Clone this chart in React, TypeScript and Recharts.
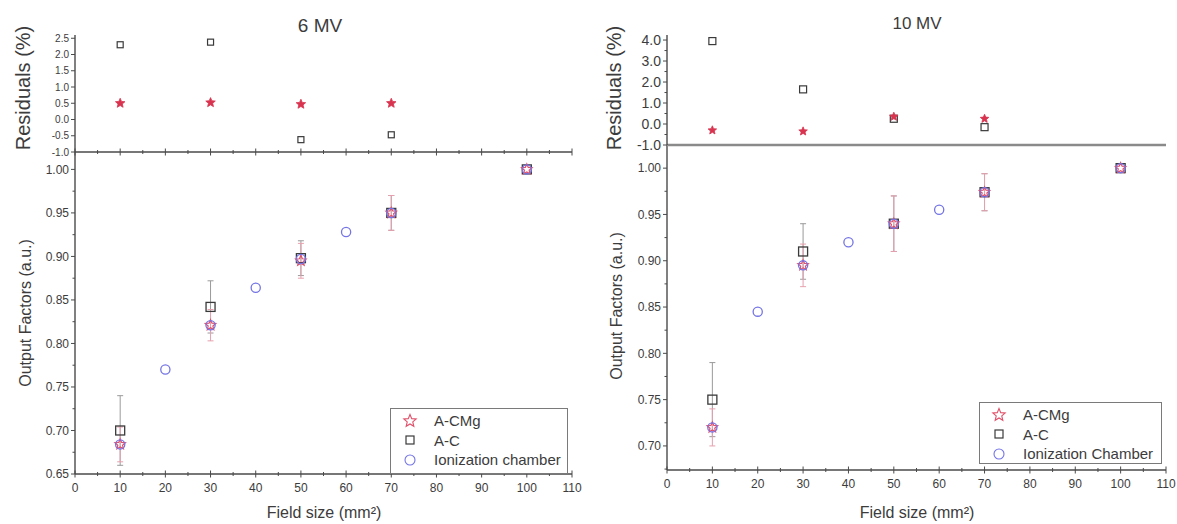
import React from 'react';
import { ScatterChart, Scatter, XAxis, YAxis, ErrorBar, ReferenceArea } from 'recharts';

// Field sizes (mm²)
const FIELD_SIZES = [10, 30, 50, 70, 100];
const RESIDUAL_FIELD_SIZES = [10, 30, 50, 70];
const CHAMBER_FIELD_SIZES = [10, 20, 30, 40, 50, 60, 70, 100];
const X_TICKS = [0, 5, 10, 15, 20, 25, 30, 35, 40, 45, 50, 55, 60, 65, 70, 75, 80, 85, 90, 95, 100, 105, 110];

// 6 MV output factors
const OF_6MV_ACMG = [0.684, 0.821, 0.895, 0.95, 1.0];
const OF_6MV_ACMG_ERR = [0.02, 0.018, 0.02, 0.02, 0];
const OF_6MV_AC = [0.7, 0.842, 0.898, 0.95, 1.0];
const OF_6MV_AC_ERR = [0.04, 0.03, 0.02, 0.02, 0];
const OF_6MV_CHAMBER = [0.684, 0.77, 0.821, 0.864, 0.897, 0.928, 0.95, 1.0];
// 6 MV residuals (%)
const RES_6MV_ACMG = [0.5, 0.52, 0.47, 0.5];
const RES_6MV_AC = [2.3, 2.38, -0.62, -0.47];

// 10 MV output factors
const OF_10MV_ACMG = [0.72, 0.895, 0.94, 0.974, 1.0];
const OF_10MV_ACMG_ERR = [0.02, 0.023, 0.03, 0.02, 0];
const OF_10MV_AC = [0.75, 0.91, 0.94, 0.974, 1.0];
const OF_10MV_AC_ERR = [0.04, 0.03, 0.03, 0.02, 0];
const OF_10MV_CHAMBER = [0.72, 0.845, 0.895, 0.92, 0.94, 0.955, 0.974, 1.0];
// 10 MV residuals (%)
const RES_10MV_ACMG = [-0.3, -0.35, 0.35, 0.25];
const RES_10MV_AC = [3.95, 1.65, 0.25, -0.15];

// Axis ticks
const RES_6MV_TICKS = [-1, -0.5, 0, 0.5, 1, 1.5, 2, 2.5];
const RES_10MV_TICKS = [-1, -0.5, 0, 0.5, 1, 1.5, 2, 2.5, 3, 3.5, 4];
const OF_6MV_TICKS = [0.65, 0.675, 0.7, 0.725, 0.75, 0.775, 0.8, 0.825, 0.85, 0.875, 0.9, 0.925, 0.95, 0.975, 1.0];
const OF_10MV_TICKS = [0.675, 0.7, 0.725, 0.75, 0.775, 0.8, 0.825, 0.85, 0.875, 0.9, 0.925, 0.95, 0.975, 1.0];

const SERIES_NAMES = ['A-CMg', 'A-C'];

const RED = '#e0506a';
const RED_FILL = '#d8334f';
const DARK = '#3a3a3a';
const BLUE = '#7474e6';
const AXIS = '#4a4a4a';
const FRAME = '#7a7a7a';
const TEXT = '#3c3c3c';
const FONT = '"Liberation Sans", Arial, sans-serif';

const pts = (xs: number[], ys: number[], errs?: number[]) =>
  xs.map((x, i) => ({ x, y: ys[i], err: errs ? errs[i] : undefined }));

function starPath(cx: number, cy: number, r: number) {
  let d = '';
  for (let i = 0; i < 10; i++) {
    const rr = i % 2 === 0 ? r : r * 0.45;
    const a = -Math.PI / 2 + (i * Math.PI) / 5;
    d += (i ? 'L' : 'M') + (cx + rr * Math.cos(a)).toFixed(2) + ',' + (cy + rr * Math.sin(a)).toFixed(2);
  }
  return d + 'Z';
}

const hollowStar = (r: number) => (p: any) =>
  <path d={starPath(p.cx, p.cy, r)} fill="none" stroke={RED} strokeWidth={1.2} />;
const filledStar = (r: number) => (p: any) =>
  <path d={starPath(p.cx, p.cy, r)} fill={RED_FILL} stroke={RED_FILL} strokeWidth={0.8} />;
const hollowSquare = (h: number, sw = 1.3) => (p: any) =>
  <rect x={p.cx - h} y={p.cy - h} width={2 * h} height={2 * h} fill="none" stroke={DARK} strokeWidth={sw} />;
const hollowCircle = (r: number) => (p: any) =>
  <circle cx={p.cx} cy={p.cy} r={r} fill="none" stroke={BLUE} strokeWidth={1.3} />;

const xTick = (labels: boolean, fontSize: number) => (props: any) => {
  const { x, y, payload } = props;
  const v = payload.value as number;
  const major = v % 10 === 0;
  const len = major ? 3.5 : 2;
  return (
    <g>
      <line x1={x} x2={x} y1={y - len} y2={y + len} stroke={AXIS} strokeWidth={1} />
      {labels && major && (
        <text x={x} y={y + 18} textAnchor="middle" fontSize={fontSize} fill={TEXT} fontFamily={FONT}>
          {v}
        </text>
      )}
    </g>
  );
};

const yTick = (fontSize: number, digits: number, isMajor: (v: number) => boolean) => (props: any) => {
  const { x, y, payload } = props;
  const v = payload.value as number;
  const major = isMajor(v);
  return (
    <g>
      <line x1={x - (major ? 4 : 2.5)} x2={x} y1={y} y2={y} stroke={AXIS} strokeWidth={1} />
      {major && (
        <text x={x - 6} y={y} dy="0.35em" textAnchor="end" fontSize={fontSize} fill={TEXT} fontFamily={FONT}>
          {v.toFixed(digits)}
        </text>
      )}
    </g>
  );
};

const everyFifth = (v: number) => Math.abs(Math.round(v * 1000) % 50) === 0;
const always = () => true;
const integer = (v: number) => Math.abs(v - Math.round(v)) < 1e-9;

function Legend({ left, top, width, height, chamber }: any) {
  const rows = [
    { label: SERIES_NAMES[0], icon: <path d={starPath(8, 8, 6.5)} fill="none" stroke={RED} strokeWidth={1.1} /> },
    { label: SERIES_NAMES[1], icon: <rect x={4} y={4} width={8} height={8} fill="none" stroke={DARK} strokeWidth={1.2} /> },
    { label: chamber, icon: <circle cx={8} cy={8} r={5} fill="none" stroke={BLUE} strokeWidth={1.1} /> },
  ];
  return (
    <div
      style={{
        position: 'absolute', left, top, width, height, boxSizing: 'border-box',
        border: `1px solid ${FRAME}`, background: '#fff', fontFamily: FONT, fontSize: 15, color: TEXT,
        paddingTop: 2,
      }}
    >
      {rows.map((r) => (
        <div key={r.label} style={{ display: 'flex', alignItems: 'center', height: 19.5 }}>
          <svg width={16} height={16} style={{ marginLeft: 11, marginRight: 16 }}>{r.icon}</svg>
          <span>{r.label}</span>
        </div>
      ))}
    </div>
  );
}

function Panel(props: any) {
  const {
    left, width, yAxisWidth, marginRight,
    resHeight, resAxisHeight, resDomain, resTicks, resFont, resMajor, resStar, resSquare, resAxisLine, resTicksShown,
    ofTop, ofHeight, ofAxisHeight, ofDomain, ofTicks,
    acmg, acmgErr, ac, acErr, chamber, resAcmg, resAc,
  } = props;
  const ofAcmg = pts(FIELD_SIZES, acmg, acmgErr);
  const ofAc = pts(FIELD_SIZES, ac, acErr);
  const ofChamber = pts(CHAMBER_FIELD_SIZES, chamber);
  const rAcmg = pts(RESIDUAL_FIELD_SIZES, resAcmg);
  const rAc = pts(RESIDUAL_FIELD_SIZES, resAc);
  return (
    <>
      <div style={{ position: 'absolute', left, top: ofTop }}>
        <ScatterChart width={width} height={ofHeight} margin={{ top: 0, right: marginRight, bottom: 0, left: 0 }}>
          <ReferenceArea fill="none" stroke={FRAME} strokeWidth={1.4} ifOverflow="visible" />
          <XAxis
            type="number" dataKey="x" domain={[0, 110]} ticks={X_TICKS} interval={0}
            height={ofAxisHeight} tickSize={0} tickMargin={0} tickLine={false}
            axisLine={{ stroke: AXIS, strokeWidth: 1.4 }}
            tick={xTick(true, 12)}
            allowDataOverflow
          />
          <YAxis
            type="number" dataKey="y" domain={ofDomain} ticks={ofTicks} interval={0}
            width={yAxisWidth} tickSize={0} tickMargin={0} tickLine={false}
            axisLine={{ stroke: AXIS, strokeWidth: 1.4 }}
            tick={yTick(12, 2, everyFifth)}
            allowDataOverflow
          />
          <Scatter name={SERIES_NAMES[1]} data={ofAc} shape={hollowSquare(4.5)} isAnimationActive={false}>
            <ErrorBar dataKey="err" direction="y" width={3} stroke="#9a9a9a" strokeWidth={1} />
          </Scatter>
          <Scatter name={SERIES_NAMES[0]} data={ofAcmg} shape={hollowStar(5.5)} isAnimationActive={false}>
            <ErrorBar dataKey="err" direction="y" width={3} stroke="#e6a0ae" strokeWidth={1} />
          </Scatter>
          <Scatter name="Ionization chamber" data={ofChamber} shape={hollowCircle(4.6)} isAnimationActive={false} />
        </ScatterChart>
      </div>
      <div style={{ position: 'absolute', left, top: 0 }}>
        <ScatterChart width={width} height={resHeight} margin={{ top: 35, right: marginRight, bottom: 0, left: 0 }}>
          <ReferenceArea fill="none" stroke={FRAME} strokeWidth={1.4} ifOverflow="visible" />
          <XAxis
            type="number" dataKey="x" domain={[0, 110]} ticks={X_TICKS} interval={0}
            height={resAxisHeight} tickSize={0} tickMargin={0} tickLine={false}
            axisLine={resAxisLine}
            tick={resTicksShown ? xTick(false, 12) : false}
            allowDataOverflow
          />
          <YAxis
            type="number" dataKey="y" domain={resDomain} ticks={resTicks} interval={0}
            width={yAxisWidth} tickSize={0} tickMargin={0} tickLine={false}
            axisLine={{ stroke: AXIS, strokeWidth: 1.4 }}
            tick={yTick(resFont, 1, resMajor)}
            allowDataOverflow
          />
          <Scatter name={SERIES_NAMES[1]} data={rAc} shape={hollowSquare(resSquare, 1.2)} isAnimationActive={false} />
          <Scatter name={SERIES_NAMES[0]} data={rAcmg} shape={filledStar(resStar)} isAnimationActive={false} />
        </ScatterChart>
      </div>
    </>
  );
}

export default function App() {
  return (
    <div style={{ position: 'absolute', left: 0, top: 0, width: 1177, height: 524, background: '#fff', overflow: 'hidden' }}>
      <Panel
        left={0} width={600} yAxisWidth={75} marginRight={28}
        resHeight={168} resAxisHeight={16} resDomain={[-1, 2.6]} resTicks={RES_6MV_TICKS} resFont={10}
        resMajor={always} resStar={5} resSquare={3} resTicksShown
        resAxisLine={{ stroke: AXIS, strokeWidth: 1.4 }}
        ofTop={152} ofHeight={372} ofAxisHeight={50} ofDomain={[0.65, 1.02]} ofTicks={OF_6MV_TICKS}
        acmg={OF_6MV_ACMG} acmgErr={OF_6MV_ACMG_ERR} ac={OF_6MV_AC} acErr={OF_6MV_AC_ERR}
        chamber={OF_6MV_CHAMBER} resAcmg={RES_6MV_ACMG} resAc={RES_6MV_AC}
      />
      <Panel
        left={590} width={587} yAxisWidth={77} marginRight={11}
        resHeight={160} resAxisHeight={15} resDomain={[-1, 4.24]} resTicks={RES_10MV_TICKS} resFont={14}
        resMajor={integer} resStar={4.5} resSquare={3.5} resTicksShown={false}
        resAxisLine={{ stroke: '#8a8a8a', strokeWidth: 2.6 }}
        ofTop={145} ofHeight={379} ofAxisHeight={54} ofDomain={[0.674, 1.025]} ofTicks={OF_10MV_TICKS}
        acmg={OF_10MV_ACMG} acmgErr={OF_10MV_ACMG_ERR} ac={OF_10MV_AC} acErr={OF_10MV_AC_ERR}
        chamber={OF_10MV_CHAMBER} resAcmg={RES_10MV_ACMG} resAc={RES_10MV_AC}
      />
      <Legend left={390} top={408} width={178} height={66} chamber="Ionization chamber" />
      <Legend left={979} top={402} width={183} height={62} chamber="Ionization Chamber" />
      <svg width={1177} height={524} style={{ position: 'absolute', left: 0, top: 0, pointerEvents: 'none' }} fontFamily={FONT} fill={TEXT}>
        <text x={320} y={32} textAnchor="middle" fontSize={19}>6 MV</text>
        <text x={917} y={29} textAnchor="middle" fontSize={17}>10 MV</text>
        <text transform="translate(30,88) rotate(-90)" textAnchor="middle" fontSize={20}>Residuals (%)</text>
        <text transform="translate(621,88) rotate(-90)" textAnchor="middle" fontSize={20}>Residuals (%)</text>
        <text transform="translate(31,313) rotate(-90)" textAnchor="middle" fontSize={16}>Output Factors (a.u.)</text>
        <text transform="translate(622,306) rotate(-90)" textAnchor="middle" fontSize={16}>Output Factors (a.u.)</text>
        <text x={324} y={518} textAnchor="middle" fontSize={16}>Field size (mm²)</text>
        <text x={917} y={518} textAnchor="middle" fontSize={16}>Field size (mm²)</text>
      </svg>
    </div>
  );
}
